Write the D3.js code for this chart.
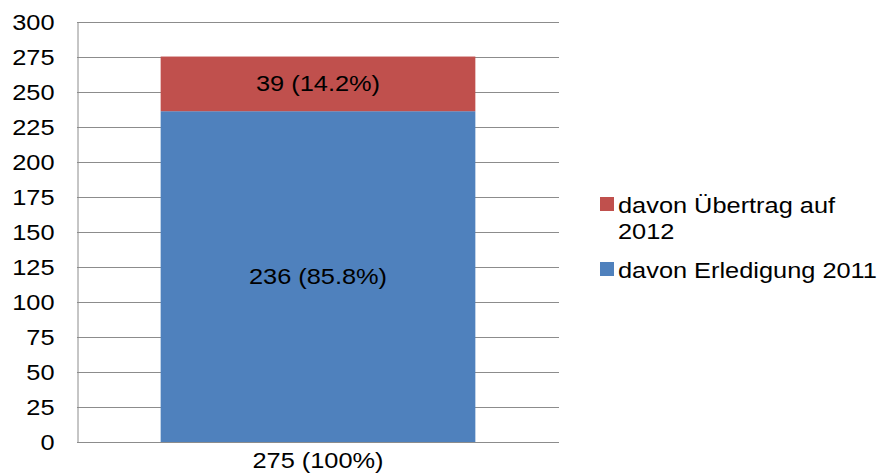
<!DOCTYPE html>
<html>
<head>
<meta charset="utf-8">
<script src="https://cdn.jsdelivr.net/npm/d3@7"></script>
<style>
  body { margin: 0; background: #fff; }
  text { font-family: "Liberation Sans", Arial, sans-serif; fill: #000; }
</style>
</head>
<body>
<svg></svg>
<script>
let categories = ["275 (100%)"];
let seriesNames = ["davon Erledigung 2011", "davon Übertrag auf 2012"];
let erledigung = [236];
let uebertrag = [39];
let segLabels = [["236 (85.8%)"], ["39 (14.2%)"]];
let yTicks = [0, 25, 50, 75, 100, 125, 150, 175, 200, 225, 250, 275, 300];
let colors = ["#4F81BD", "#C0504D"];

let width = 881;
let height = 474;
let plotLeft = 77, plotRight = 559, plotTop = 21.5, plotBottom = 442;
let fs = "21.5px";
let sx = 1.18; // the original text is a little stretched horizontally

let svg = d3.select("svg").attr("width", width).attr("height", height);

let yScale = d3.scaleLinear().domain([0, 300]).range([plotBottom, plotTop]);
let xScale = d3.scaleBand().domain(categories).range([plotLeft, plotRight])
               .paddingInner(0.21).paddingOuter(0.21);

// put text at x,y with horizontal stretch
let place = (x, y) => "translate(" + x + "," + y + ") scale(" + sx + ",1)";

// gridlines
svg.append("g")
   .selectAll("line")
   .data(yTicks)
   .enter()
   .append("line")
   .attr("x1", plotLeft).attr("x2", plotRight)
   .attr("y1", d => Math.round(yScale(d)) + 0.5)
   .attr("y2", d => Math.round(yScale(d)) + 0.5)
   .attr("stroke", "#8c8c8c").attr("stroke-width", 1);

// y axis
let yAxis = d3.axisLeft(yScale).tickValues(yTicks).tickSize(0).tickPadding(19.5);
let yg = svg.append("g").attr("transform", "translate(" + (plotLeft + 0.5) + ",0)").call(yAxis);
yg.select(".domain").attr("stroke", "#8c8c8c");
yg.selectAll("text")
  .style("font-size", fs)
  .attr("font-family", null)
  .attr("dy", "0.36em")
  .attr("transform", "scale(" + sx + ",1)");

// stacked bars
let stackData = categories.map((c, i) => ({cat: c, e: erledigung[i], u: uebertrag[i]}));
let stack = d3.stack().keys(["e", "u"])(stackData);

stack.forEach((layer, li) => {
  svg.append("g").selectAll("rect")
     .data(layer)
     .enter()
     .append("rect")
     .attr("x", d => xScale(d.data.cat))
     .attr("width", xScale.bandwidth())
     .attr("y", d => yScale(d[1]))
     .attr("height", d => yScale(d[0]) - yScale(d[1]))
     .attr("fill", colors[li]);

  svg.append("g").selectAll("text")
     .data(layer)
     .enter()
     .append("text")
     .attr("transform", d => place(xScale(d.data.cat) + xScale.bandwidth() / 2,
                                   (yScale(d[0]) + yScale(d[1])) / 2 + 7.5))
     .attr("text-anchor", "middle")
     .style("font-size", fs)
     .text((d, i) => segLabels[li][i]);
});

// x axis label
svg.append("g").selectAll("text")
   .data(categories)
   .enter()
   .append("text")
   .attr("transform", d => place(xScale(d) + xScale.bandwidth() / 2, 468))
   .attr("text-anchor", "middle")
   .style("font-size", fs)
   .text(d => d);

// legend
let legendItems = [
  {lines: ["davon Übertrag auf", "2012"], color: colors[1], y: 197},
  {lines: ["davon Erledigung 2011"], color: colors[0], y: 262}
];
let lg = svg.append("g");
legendItems.forEach(item => {
  lg.append("rect")
    .attr("x", 600).attr("y", item.y)
    .attr("width", 14).attr("height", 14)
    .attr("fill", item.color);
  item.lines.forEach((t, j) => {
    lg.append("text")
      .attr("transform", place(618, item.y + 15.5 + j * 26))
      .style("font-size", fs)
      .text(t);
  });
});
</script>
</body>
</html>
